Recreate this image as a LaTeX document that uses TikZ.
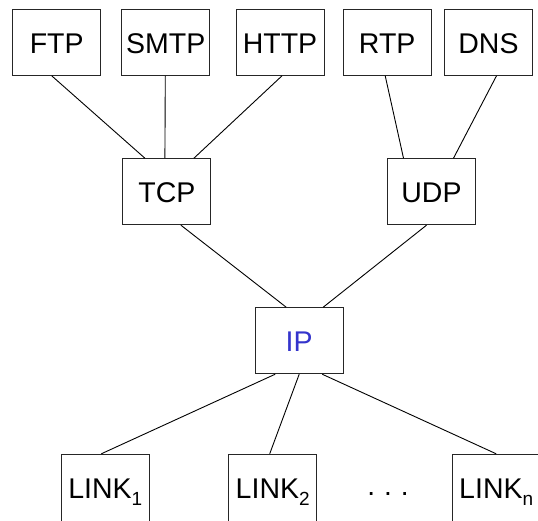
\documentclass[tikz,border=0pt]{standalone}
\usepackage{fontspec}
\setmainfont{Liberation Sans}
\definecolor{ipblue}{HTML}{3434CC}
\begin{document}
\begin{tikzpicture}[x=1pt,y=-1pt,
  box/.style={draw=black!85, line width=1pt, minimum width=88pt, minimum height=66pt,
    inner sep=0pt, text height=22pt, text depth=0pt,
    font=\fontsize{28.5}{28.5}\selectfont},
  link/.style={line width=0.9pt, black}]
\clip (0,0) rectangle (538,520);
\fill[white] (0,0) rectangle (538,520);
% application layer
\node[box] (ftp)  at (56.7,42.3)  {FTP};
\node[box] (smtp) at (165.7,42.3) {SMTP};
\node[box] (http) at (280,42.3)   {HTTP};
\node[box] (rtp)  at (387.2,42.3) {RTP};
\node[box] (dns)  at (488.5,42.3) {DNS};
% transport layer
\node[box] (tcp) at (166.9,191.7) {TCP};
\node[box] (udp) at (431.5,191.7) {UDP};
% network layer
\node[box, text=ipblue] (ip) at (299.2,340.7) {IP};
% link layer
\newcommand{\lsub}[1]{\raisebox{-6.5pt}{\fontsize{19}{19}\selectfont #1}}
\node[box, minimum height=67pt] (l1) at (105.3,487.8) {LINK\lsub{1}};
\node[box, minimum height=67pt] (l2) at (272.7,487.8) {LINK\lsub{2}};
\node[box, minimum height=67pt] (ln) at (496.2,487.8) {LINK\lsub{n}};
\node[anchor=base, inner sep=0pt, font=\fontsize{28}{28}\selectfont] (dots) at (388,495.5) {.\hspace{9pt}.\hspace{9pt}.};
% connectors
\draw[link] ([xshift=-5pt]ftp.south) -- ([xshift=-22pt]tcp.north);
\draw[link] ([xshift=-0.4pt]smtp.south) -- ([xshift=-2pt]tcp.north);
\draw[link] ([xshift=2pt]http.south) -- ([xshift=27pt]tcp.north);
\draw[link] ([xshift=-2pt]rtp.south) -- ([xshift=-28pt]udp.north);
\draw[link] ([xshift=8pt]dns.south) -- ([xshift=22pt]udp.north);
\draw[link] ([xshift=14pt]tcp.south) -- ([xshift=-13pt]ip.north);
\draw[link] ([xshift=-5pt]udp.south) -- ([xshift=24pt]ip.north);
\draw[link] ([xshift=-24pt]ip.south) -- ([xshift=-4pt]l1.north);
\draw[link] ([xshift=0pt]ip.south) -- ([xshift=-3pt]l2.north);
\draw[link] ([xshift=23pt]ip.south) -- ([xshift=0pt]ln.north);
\end{tikzpicture}
\end{document}
